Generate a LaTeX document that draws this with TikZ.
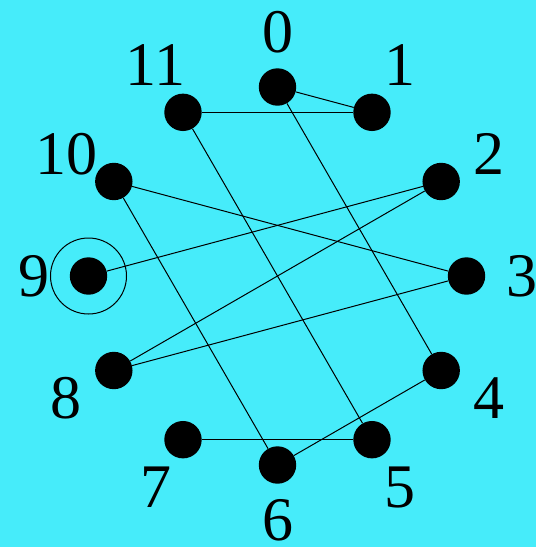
\documentclass[tikz,border=0pt]{standalone}
\usepackage{fontspec}
\setmainfont{Liberation Serif}
\definecolor{bg}{RGB}{70,236,250}
\begin{document}
\begin{tikzpicture}[x=1pt,y=-1pt,
  dot/.style={circle,fill=black,minimum size=37.4pt,inner sep=0pt},
  lbl/.style={font=\fontsize{62}{62}\selectfont,inner sep=0pt},
  edge/.style={line width=1pt,black},
  ring/.style={draw,circle,minimum size=76pt,inner sep=0pt,line width=1pt}]
\fill[bg] (0,0) rectangle (536,547);
\useasboundingbox (0,0) rectangle (536,547);
\foreach \i in {0,...,11}{
  \pgfmathsetmacro\a{90-30*\i}
  \node[dot] (n\i) at ({277.5+189*cos(\a)},{276-189*sin(\a)}) {};
  \node[lbl] (l\i) at ({277.5+244*cos(\a)},{276-244*sin(\a)}) {\i};
}
\node[ring] (r9) at (n9) {};
\draw[edge] (n0) -- (n1);
\draw[edge] (n0) -- (n4);
\draw[edge] (n11) -- (n1);
\draw[edge] (n11) -- (n5);
\draw[edge] (n10) -- (n3);
\draw[edge] (n10) -- (n6);
\draw[edge] (n9) -- (n2);
\draw[edge] (n8) -- (n2);
\draw[edge] (n8) -- (n3);
\draw[edge] (n7) -- (n5);
\draw[edge] (n6) -- (n4);
\end{tikzpicture}
\end{document}
